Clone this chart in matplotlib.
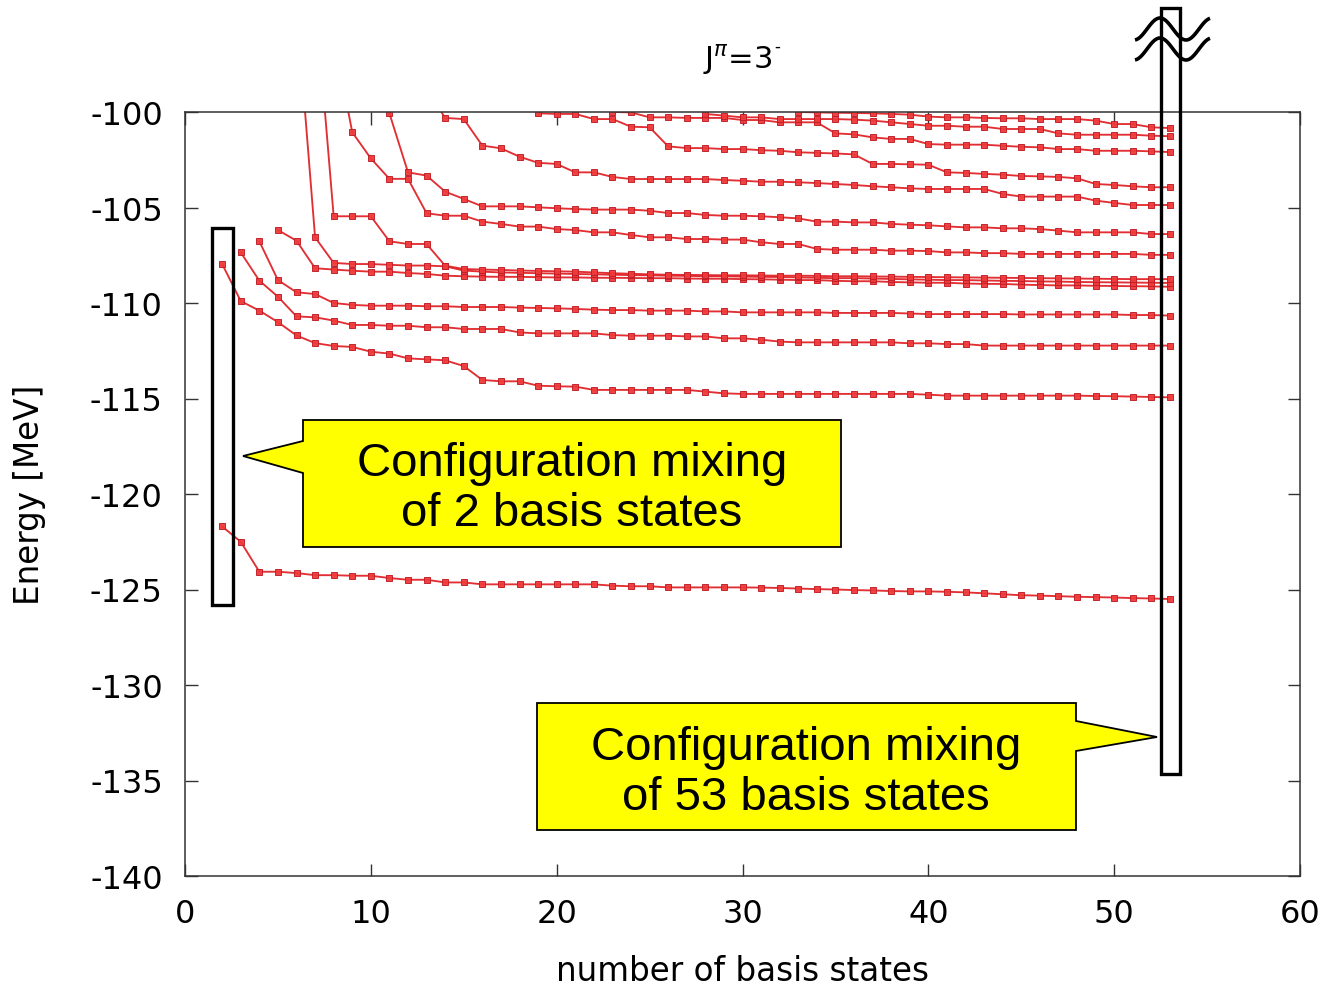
import numpy as np
import matplotlib
matplotlib.use("Agg")
import matplotlib.pyplot as plt
from matplotlib.patches import Rectangle, Polygon

plt.rcParams['axes.unicode_minus'] = False
plt.rcParams['font.family'] = ['DejaVu Sans']

# ---------------- data (energy eigenvalues vs number of basis states) ----------------
x_ticks = [0, 10, 20, 30, 40, 50, 60]
y_ticks = [-140, -135, -130, -125, -120, -115, -110, -105, -100]

# each curve: first n, then energies for n, n+1, ...
c1_start = 2
c1 = [-121.7, -122.5, -124.07, -124.07, -124.14, -124.25, -124.25, -124.28, -124.28, -124.4,
      -124.49, -124.49, -124.63, -124.63, -124.73, -124.73, -124.73, -124.73, -124.73, -124.73,
      -124.73, -124.8, -124.83, -124.83, -124.89, -124.89, -124.89, -124.89, -124.89, -124.9,
      -124.92, -124.95, -124.98, -125.0, -125.03, -125.05, -125.08, -125.1, -125.1, -125.12,
      -125.15, -125.2, -125.25, -125.3, -125.32, -125.35, -125.38, -125.4, -125.42, -125.45,
      -125.47, -125.5]

c2_start = 2
c2 = [-107.96, -109.9, -110.4, -111.0, -111.7, -112.1, -112.25, -112.3, -112.55, -112.65,
      -112.9, -112.95, -113.0, -113.3, -114.03, -114.1, -114.1, -114.33, -114.36, -114.38,
      -114.55, -114.55, -114.55, -114.55, -114.55, -114.55, -114.64, -114.73, -114.76, -114.76,
      -114.76, -114.76, -114.76, -114.76, -114.76, -114.76, -114.76, -114.76, -114.8, -114.85,
      -114.85, -114.85, -114.85, -114.85, -114.85, -114.85, -114.85, -114.87, -114.88, -114.9,
      -114.92, -114.94]

c3_start = 3
c3 = [-107.35, -108.83, -109.67, -110.7, -110.75, -110.92, -111.15, -111.15, -111.19, -111.19,
      -111.27, -111.27, -111.36, -111.36, -111.36, -111.54, -111.59, -111.59, -111.59, -111.59,
      -111.68, -111.71, -111.71, -111.71, -111.75, -111.75, -111.85, -111.85, -111.92, -112.02,
      -112.06, -112.06, -112.06, -112.06, -112.06, -112.06, -112.11, -112.11, -112.15, -112.15,
      -112.23, -112.23, -112.23, -112.23, -112.23, -112.23, -112.23, -112.23, -112.23, -112.23,
      -112.23]

c4_start = 4
c4 = [-106.77, -108.8, -109.44, -109.53, -110.0, -110.1, -110.14, -110.14, -110.14, -110.17,
      -110.17, -110.21, -110.21, -110.21, -110.24, -110.26, -110.28, -110.31, -110.35, -110.37,
      -110.37, -110.4, -110.4, -110.4, -110.44, -110.44, -110.49, -110.49, -110.49, -110.49,
      -110.49, -110.52, -110.52, -110.52, -110.52, -110.55, -110.58, -110.58, -110.58, -110.58,
      -110.58, -110.6, -110.6, -110.6, -110.6, -110.6, -110.6, -110.63, -110.63, -110.66]

c5_start = 5
c5 = [-106.18, -106.74, -108.18, -108.25, -108.31, -108.36, -108.36, -108.43, -108.48, -108.57,
      -108.6, -108.62, -108.63, -108.63, -108.65, -108.66, -108.66, -108.68, -108.68, -108.69,
      -108.7, -108.7, -108.72, -108.73, -108.73, -108.75, -108.76, -108.78, -108.8, -108.8,
      -108.84, -108.86, -108.86, -108.9, -108.92, -108.94, -108.94, -108.98, -109.0, -109.0,
      -109.04, -109.06, -109.08, -109.08, -109.1, -109.11, -109.12, -109.13, -109.15]

c6_start = 6
c6 = [-94.4, -106.56, -107.9, -107.96, -107.96, -108.0, -108.04, -108.04, -108.08, -108.3,
      -108.36, -108.4, -108.42, -108.44, -108.46, -108.48, -108.5, -108.52, -108.54, -108.55,
      -108.57, -108.58, -108.6, -108.6, -108.62, -108.63, -108.64, -108.66, -108.68, -108.7,
      -108.7, -108.72, -108.74, -108.76, -108.78, -108.8, -108.8, -108.82, -108.84, -108.85,
      -108.87, -108.88, -108.9, -108.91, -108.92, -108.93, -108.94, -108.95]

c7_start = 7
c7 = [-93.8, -105.46, -105.46, -105.46, -106.77, -106.91, -106.91, -108.05, -108.22, -108.25,
      -108.27, -108.3, -108.32, -108.34, -108.36, -108.4, -108.44, -108.47, -108.5, -108.52,
      -108.53, -108.54, -108.55, -108.55, -108.56, -108.57, -108.57, -108.58, -108.6, -108.6,
      -108.61, -108.62, -108.63, -108.64, -108.65, -108.66, -108.67, -108.68, -108.69, -108.7,
      -108.71, -108.72, -108.73, -108.74, -108.75, -108.75, -108.75]

c8_start = 8
c8 = [-96.0, -101.06, -102.43, -103.5, -103.5, -105.3, -105.43, -105.43, -105.74, -105.86,
      -106.0, -106.0, -106.13, -106.18, -106.3, -106.3, -106.44, -106.56, -106.56, -106.65,
      -106.65, -106.68, -106.68, -106.82, -106.91, -106.91, -107.17, -107.21, -107.21, -107.21,
      -107.26, -107.26, -107.28, -107.35, -107.35, -107.39, -107.39, -107.43, -107.43, -107.43,
      -107.43, -107.43, -107.43, -107.43, -107.48, -107.48]

c9_start = 11
c9 = [-100.07, -103.16, -103.33, -104.17, -104.55, -104.94, -104.94, -104.94, -104.99, -105.04,
      -105.08, -105.11, -105.11, -105.11, -105.17, -105.29, -105.29, -105.39, -105.43, -105.43,
      -105.46, -105.51, -105.57, -105.74, -105.74, -105.78, -105.78, -105.86, -105.9, -105.93,
      -105.99, -106.04, -106.04, -106.09, -106.09, -106.13, -106.21, -106.3, -106.3, -106.3,
      -106.3, -106.39, -106.39]

c10_start = 13
c10 = [-98.8, -100.31, -100.37, -101.76, -101.9, -102.34, -102.66, -102.72, -103.16, -103.16,
       -103.4, -103.51, -103.51, -103.51, -103.51, -103.51, -103.56, -103.6, -103.65, -103.65,
       -103.68, -103.72, -103.77, -103.82, -103.89, -103.94, -104.0, -104.03, -104.03, -104.03,
       -104.03, -104.29, -104.43, -104.43, -104.43, -104.43, -104.64, -104.76, -104.87, -104.87,
       -104.87]

c11_start = 19
c11 = [-100.07, -100.1, -100.1, -100.37, -100.37, -100.77, -100.8, -101.8, -101.89, -101.89,
       -101.94, -101.94, -102.0, -102.03, -102.11, -102.14, -102.17, -102.22, -102.72, -102.72,
       -102.74, -102.76, -103.16, -103.19, -103.24, -103.28, -103.35, -103.37, -103.4, -103.47,
       -103.77, -103.82, -103.89, -103.94, -103.94]

c12_start = 23
c12 = [-100.0, -100.02, -100.28, -100.28, -100.31, -100.31, -100.31, -100.42, -100.42, -100.54,
       -100.54, -100.54, -101.12, -101.17, -101.33, -101.41, -101.41, -101.68, -101.71, -101.71,
       -101.71, -101.77, -101.82, -101.85, -101.94, -101.94, -102.03, -102.03, -102.03, -102.06,
       -102.1]

c13_start = 28
c13 = [-100.1, -100.19, -100.28, -100.28, -100.37, -100.37, -100.37, -100.37, -100.4, -100.45,
       -100.54, -100.63, -100.72, -100.72, -100.77, -100.77, -100.89, -100.89, -100.89, -101.12,
       -101.19, -101.19, -101.19, -101.19, -101.24, -101.27]

c14_start = 33
c14 = [-100.0, -100.02, -100.04, -100.05, -100.07, -100.1, -100.14, -100.24, -100.28, -100.28,
       -100.31, -100.33, -100.33, -100.37, -100.37, -100.37, -100.45, -100.63, -100.63, -100.8,
       -100.84]

curves = [(c1_start, c1), (c2_start, c2), (c3_start, c3), (c4_start, c4), (c5_start, c5),
          (c6_start, c6), (c7_start, c7), (c8_start, c8), (c9_start, c9), (c10_start, c10),
          (c11_start, c11), (c12_start, c12), (c13_start, c13), (c14_start, c14)]

# ---------------- figure ----------------
W, H = 1325, 987
fig = plt.figure(figsize=(W / 100, H / 100), dpi=100)
fig.patch.set_facecolor('white')

ax = fig.add_axes([185 / W, 1 - 877 / H, 1115 / W, 764 / H])
for start, vals in curves:
    n = np.arange(start, start + len(vals))
    ax.plot(n, vals, color='#e02428', lw=1.35, marker='s', ms=3.8,
            mfc='#f03a3a', mec='#c01e28', mew=0.7, alpha=0.95)

ax.set_xlim(0, 60)
ax.set_ylim(-140, -100)
ax.set_xticks(x_ticks)
ax.set_yticks(y_ticks)
ax.tick_params(direction='in', length=9, width=1.0, top=True, right=True,
               labelsize=23, pad=16, color='#333333')
for s in ax.spines.values():
    s.set_color('#333333')
    s.set_linewidth(1.1)

ax.set_xlabel('number of basis states', fontsize=23.5)
ax.set_ylabel('Energy [MeV]', fontsize=23.5)
ax.xaxis.set_label_coords(0.5, (877 - 972) / 764)
ax.yaxis.set_label_coords((30 - 185) / 1115, 0.5)
ax.xaxis.label.set_va('center')
ax.yaxis.label.set_va('center')

# ---------------- overlay annotations in pixel space ----------------
ov = fig.add_axes([0, 0, 1, 1], zorder=5)
ov.set_xlim(0, W)
ov.set_ylim(H, 0)
ov.axis('off')

ov.text(738, 60, r'J$^{\pi}$=3', ha='center', va='center', fontsize=22)
ov.text(777, 47, '-', ha='center', va='center', fontsize=12)

ov.add_patch(Rectangle((212, 229), 21, 377, fill=False, ec='black', lw=2.4))
ov.add_patch(Rectangle((1161, 9), 19, 766, fill=False, ec='black', lw=2.4))

xs = np.linspace(1135, 1210, 80)
ys = 30 - 11 * np.cos(2 * np.pi * (xs - 1160) / 52)
ov.plot(xs, ys, color='black', lw=2.6, solid_capstyle='butt')
ov.plot(xs, ys + 20, color='black', lw=2.6, solid_capstyle='butt')

call1 = [(303, 421), (841, 421), (841, 548), (303, 548), (303, 474), (243, 457), (303, 442)]
ov.add_patch(Polygon(call1, closed=True, fc='#ffff00', ec='black', lw=1.3))
ov.text(572, 489, 'Configuration mixing\nof 2 basis states', ha='center', va='center',
        fontsize=34, family='Liberation Sans', linespacing=1.18)

call2 = [(537, 704), (1076, 704), (1076, 722), (1157, 738), (1076, 752), (1076, 831), (537, 831)]
ov.add_patch(Polygon(call2, closed=True, fc='#ffff00', ec='black', lw=1.3))
ov.text(806, 773, 'Configuration mixing\nof 53 basis states', ha='center', va='center',
        fontsize=34, family='Liberation Sans', linespacing=1.18)

fig.savefig('out.png', dpi=100)
